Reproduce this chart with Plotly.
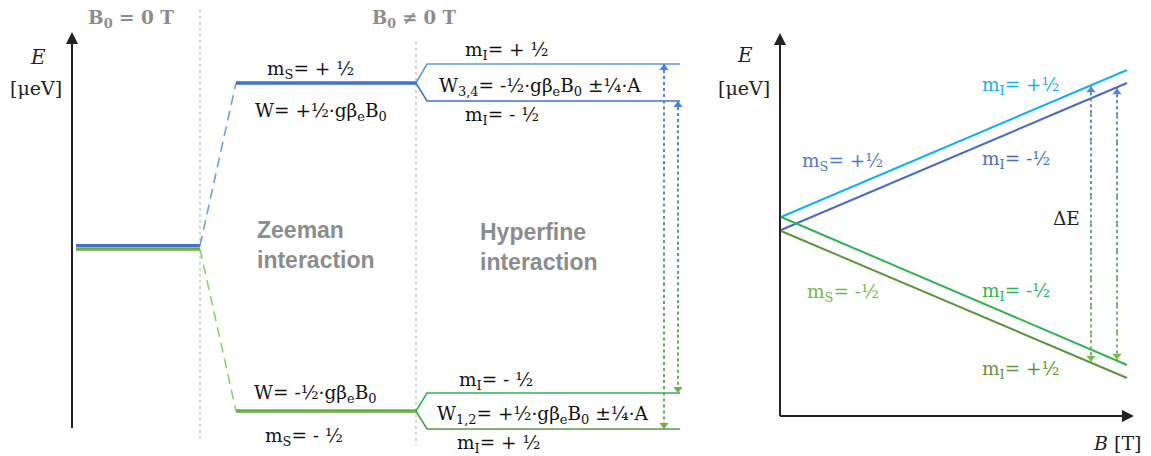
import plotly.graph_objects as go

# ---------------- data (picture units, y grows downward) ----------------
# Left panel: energy-level diagram
axis_left_x = 72
axis_left_y = [428, 32]
zero_field_x = [76, 200]
zero_field_E = [245.5, 249]            # ms=+1/2 (blue), ms=-1/2 (green) at B0 = 0
zeeman_x = [236, 416]
zeeman_E = [83, 411]                   # ms=+1/2, ms=-1/2
hyperfine_x = [427, 680]
hyperfine_E = [64, 101, 393, 429]      # mI=+1/2, mI=-1/2 (ms=+1/2) ; mI=-1/2, mI=+1/2 (ms=-1/2)
separator_x = [200, 416]
separator_y = [[10, 442], [42, 445]]
transition_x_left = [664, 678]
transition_E_left = [[64, 429], [101, 393]]

# Right panel: energy vs magnetic field
axis_right_x = 780
axis_right_y = [416, 33]
axis_right_xend = 1134
B_ends = [781, 1127]
E_plus_mIplus = [217, 70]
E_plus_mIminus = [230, 83]
E_minus_mIminus = [217, 365]
E_minus_mIplus = [231, 378]
transition_x_right = [1091, 1117]

# ---------------- styles ----------------
BLUE = "#4472C4"
LBLUE = "#5B9BD5"
CYAN = "#14B0EE"
DBLUE = "#4A6BC4"
GREEN = "#70AD47"
BGREEN = "#2DB450"
OLIVE = "#5E9440"
GRAY = "#8C8C8C"
SERIF = "DejaVu Serif"
SANS = "Liberation Sans"
FS = 18.5

fig = go.Figure()


def line(xs, ys, color, width, dash="solid"):
    fig.add_trace(go.Scatter(x=xs, y=ys, mode="lines", hoverinfo="skip",
                             line=dict(color=color, width=width, dash=dash),
                             showlegend=False))


def mix(c1, c2, t):
    a = [int(c1[i:i + 2], 16) for i in (1, 3, 5)]
    b = [int(c2[i:i + 2], 16) for i in (1, 3, 5)]
    return "#" + "".join(f"{round(a[k] + (b[k] - a[k]) * t):02x}" for k in range(3))


def dotted_arrow(x, y_top, y_bot, c_top, c_bot):
    n = 10
    for k in range(n):
        y0 = y_top + (y_bot - y_top) * k / n
        y1 = y_top + (y_bot - y_top) * (k + 1) / n
        line([x, x], [y0, y1], mix(c_top, c_bot, (k + 0.5) / n), 2, "3px,3px")
    fig.add_trace(go.Scatter(x=[x], y=[y_top + 4], mode="markers", hoverinfo="skip",
                             marker=dict(symbol="triangle-up", size=8, color=c_top),
                             showlegend=False))
    fig.add_trace(go.Scatter(x=[x], y=[y_bot - 4], mode="markers", hoverinfo="skip",
                             marker=dict(symbol="triangle-down", size=8, color=c_bot),
                             showlegend=False))


# separators
for sx, sy in zip(separator_x, separator_y):
    line([sx, sx], sy, "#B0B0B0", 1, "dot")

# left axis
line([axis_left_x, axis_left_x], [axis_left_y[0], axis_left_y[1] + 6], "#222222", 2)

# zero field levels
line(zero_field_x, [zero_field_E[1]] * 2, GREEN, 3.5)
line(zero_field_x, [zero_field_E[0]] * 2, BLUE, 3)

# Zeeman dashed connectors
line([zero_field_x[1], zeeman_x[0]], [zero_field_E[0], zeeman_E[0]], "#6E9EE6", 1.6, "10px,6px")
line([zero_field_x[1], zeeman_x[0]], [zero_field_E[1], zeeman_E[1]], "#92CF6E", 1.6, "10px,6px")

# Zeeman levels
line(zeeman_x, [zeeman_E[0]] * 2, BLUE, 3.5)
line(zeeman_x, [zeeman_E[1]] * 2, GREEN, 3.5)

# Hyperfine levels
hf_colors = [LBLUE, BLUE, BGREEN, OLIVE]
hf_parent = [zeeman_E[0], zeeman_E[0], zeeman_E[1], zeeman_E[1]]
for E, pE, c in zip(hyperfine_E, hf_parent, hf_colors):
    line([zeeman_x[1], hyperfine_x[0], hyperfine_x[1]], [pE, E, E], c, 1.6)

# left transitions
dotted_arrow(transition_x_left[0], transition_E_left[0][0], transition_E_left[0][1], "#4F7FD2", GREEN)
dotted_arrow(transition_x_left[1], transition_E_left[1][0], transition_E_left[1][1], "#4F7FD2", GREEN)

# right axes
line([axis_right_x, axis_right_x], [axis_right_y[0], axis_right_y[1] + 6], "#222222", 2)
line([axis_right_x, axis_right_xend - 6], [axis_right_y[0]] * 2, "#222222", 2)

# right energy lines
line(B_ends, E_plus_mIplus, CYAN, 2)
line(B_ends, E_plus_mIminus, DBLUE, 2)
line(B_ends, E_minus_mIminus, BGREEN, 2)
line(B_ends, E_minus_mIplus, OLIVE, 2)


def interp(xe, ye, x):
    return ye[0] + (ye[1] - ye[0]) * (x - xe[0]) / (xe[1] - xe[0])


dotted_arrow(transition_x_right[0], interp(B_ends, E_plus_mIplus, transition_x_right[0]) + 1,
             interp(B_ends, E_minus_mIplus, transition_x_right[0]) - 1, "#5A86D0", "#7DB84E")
dotted_arrow(transition_x_right[1], interp(B_ends, E_plus_mIminus, transition_x_right[1]) + 1,
             interp(B_ends, E_minus_mIminus, transition_x_right[1]) - 1, "#5A86D0", "#7DB84E")

# axis arrowheads
arrows = [
    dict(x=axis_left_x, y=axis_left_y[1], ax=axis_left_x, ay=axis_left_y[1] + 20),
    dict(x=axis_right_x, y=axis_right_y[1], ax=axis_right_x, ay=axis_right_y[1] + 20),
    dict(x=axis_right_xend, y=axis_right_y[0], ax=axis_right_xend - 20, ay=axis_right_y[0]),
]
for a in arrows:
    fig.add_annotation(x=a["x"], y=a["y"], ax=a["ax"], ay=a["ay"], xref="x", yref="y",
                       axref="x", ayref="y", showarrow=True, arrowhead=2, arrowsize=1.2,
                       arrowwidth=2, arrowcolor="#222222", text="")

# texts: (text, x, y, color, size, family, anchor)
texts = [
    ("<i>E</i>", 38, 57, "#222222", 20, SERIF, "center"),
    ("[μeV]", 36, 88, "#222222", 19, SERIF, "center"),
    ("<b>B<sub>0</sub> = 0 T</b>", 131, 19, GRAY, 18.5, SERIF, "center"),
    ("<b>B<sub>0</sub> ≠ 0 T</b>", 414, 19, GRAY, 18, SERIF, "center"),
    ("m<sub>S</sub>= + ½", 265, 70, "#111111", FS, SERIF, "left"),
    ("W= +½·gβ<sub>e</sub>B<sub>0</sub>", 253, 112, "#111111", FS, SERIF, "left"),
    ("m<sub>I</sub>= + ½", 463, 51, "#111111", FS, SERIF, "left"),
    ("W<sub>3,4</sub>= -½·gβ<sub>e</sub>B<sub>0</sub> ±¼·A", 437, 87, "#111111", FS, SERIF, "left"),
    ("m<sub>I</sub>= - ½", 463, 116, "#111111", FS, SERIF, "left"),
    ("m<sub>I</sub>= - ½", 457, 381, "#111111", FS, SERIF, "left"),
    ("W= -½·gβ<sub>e</sub>B<sub>0</sub>", 252, 394, "#111111", FS, SERIF, "left"),
    ("W<sub>1,2</sub>= +½·gβ<sub>e</sub>B<sub>0</sub> ±¼·A", 435, 415, "#111111", FS, SERIF, "left"),
    ("m<sub>S</sub>= - ½", 263, 437, "#111111", FS, SERIF, "left"),
    ("m<sub>I</sub>= + ½", 455, 444, "#111111", FS, SERIF, "left"),
    ("<b>Zeeman<br>interaction</b>", 255, 245, GRAY, 23, SANS, "left"),
    ("<b>Hyperfine<br>interaction</b>", 478, 247, GRAY, 23, SANS, "left"),
    ("<i>E</i>", 745, 55, "#222222", 20, SERIF, "center"),
    ("[μeV]", 744, 88, "#222222", 19, SERIF, "center"),
    ("m<sub>I</sub>= +½", 980, 86, CYAN, FS, SERIF, "left"),
    ("m<sub>S</sub>= +½", 800, 162, "#4B7BC8", FS, SERIF, "left"),
    ("m<sub>I</sub>= -½", 980, 160, DBLUE, FS, SERIF, "left"),
    ("ΔE", 1066, 218, "#222222", FS, SERIF, "center"),
    ("m<sub>S</sub>= -½", 805, 293, "#72B84A", FS, SERIF, "left"),
    ("m<sub>I</sub>= -½", 980, 292, BGREEN, FS, SERIF, "left"),
    ("m<sub>I</sub>= +½", 980, 370, OLIVE, FS, SERIF, "left"),
    ("<i>B</i> [T]", 1117, 443, "#222222", 19, SERIF, "center"),
]
for t, x, y, c, s, f, anc in texts:
    fig.add_annotation(x=x, y=y, xref="x", yref="y", text=t, showarrow=False,
                       xanchor=anc, yanchor="middle", align="left",
                       font=dict(color=c, size=s, family=f))

fig.update_layout(
    width=1151, height=456, margin=dict(l=0, r=0, t=0, b=0),
    paper_bgcolor="white", plot_bgcolor="white",
    xaxis=dict(range=[0, 1151], visible=False, fixedrange=True),
    yaxis=dict(range=[456, 0], visible=False, fixedrange=True),
    showlegend=False,
)
fig.write_html("out.html")
